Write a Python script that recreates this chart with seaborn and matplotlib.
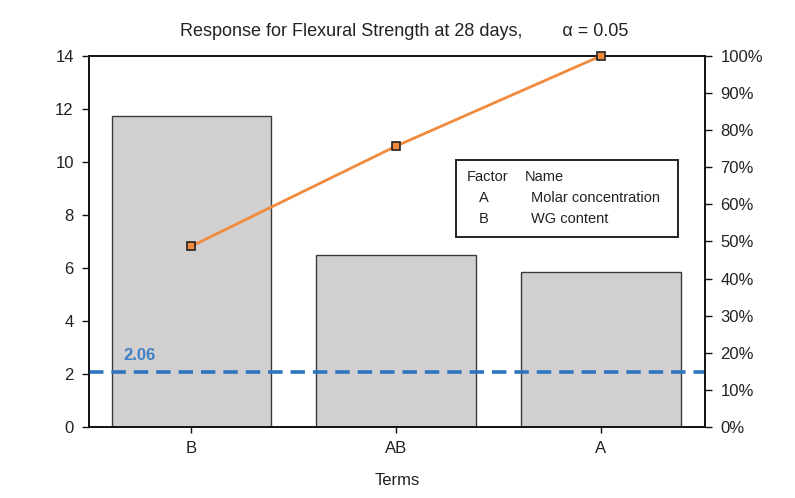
import matplotlib
matplotlib.use("Agg")
import matplotlib.pyplot as plt
import seaborn as sns
import numpy as np
import pandas as pd
from matplotlib.ticker import PercentFormatter
from matplotlib.patches import Rectangle

sns.set_theme(style="white")
plt.rcParams['font.family'] = ['Liberation Sans', 'DejaVu Sans']

terms = ["B", "AB", "A"]
effects = [11.74, 6.50, 5.85]
threshold = 2.06
left_ticks = [0, 2, 4, 6, 8, 10, 12, 14]
right_ticks = [0, 10, 20, 30, 40, 50, 60, 70, 80, 90, 100]
legend_rows = [("Factor", "Name"), ("A", "Molar concentration"), ("B", "WG content")]

df = pd.DataFrame({"term": terms, "effect": effects})
cum_pct = np.cumsum(effects) / np.sum(effects) * 100
df["cum"] = cum_pct

fig = plt.figure(figsize=(7.95, 4.98), dpi=100)
ax = fig.add_axes([0.1120, 0.1426, 0.7750, 0.745])

sns.barplot(data=df, x="term", y="effect", order=terms, color="#d2cfd1",
            edgecolor="#3a3a3a", linewidth=1.0, width=0.78, saturation=1, ax=ax)
ax.set_xlim(-0.50, 2.51)
ax.set_ylim(0, 14)
ax.set_yticks(left_ticks)
ax.set_ylabel("")
ax.set_xlabel("Terms", fontsize=12, color="#222222", labelpad=12)
ax.axhline(threshold, color="#2e75c0", linestyle=(0, (4, 2.2)), linewidth=2.6, zorder=5)
ax.text(0.0 - 0.33, threshold + 0.35, f"{threshold:.2f}", color="#3f7fc4",
        fontsize=12, fontweight="bold", ha="left", va="bottom")

for s in ax.spines.values():
    s.set_visible(True)
    s.set_color("#111111")
    s.set_linewidth(1.2)
ax.tick_params(axis="y", direction="out", length=5, width=1, color="#111111",
               labelsize=12, labelcolor="#222222", left=True, pad=6)
ax.tick_params(axis="x", direction="out", length=4, width=1, color="#111111",
               labelsize=12, labelcolor="#222222", bottom=True, pad=6)

ax2 = ax.twinx()
sns.lineplot(data=df, x="term", y="cum", ax=ax2, color="#f08a3c", linewidth=2,
             marker="s", markersize=6, markerfacecolor="#f08a3c",
             markeredgecolor="#222222", markeredgewidth=1.2, zorder=6, clip_on=False)
ax2.set_ylim(0, 100)
ax2.set_yticks(right_ticks)
ax2.yaxis.set_major_formatter(PercentFormatter(decimals=0))
ax2.set_ylabel("")
ax2.set_xlim(-0.50, 2.51)
for s in ax2.spines.values():
    s.set_visible(True)
    s.set_color("#111111")
    s.set_linewidth(1.2)
ax2.tick_params(axis="y", direction="out", length=5, width=1, color="#111111",
                labelsize=12, labelcolor="#222222", right=True, pad=6)
ax2.grid(False)
ax.grid(False)

fig.text(0.508, 0.937, "Response for Flexural Strength at 28 days,        \u03b1 = 0.05",
         ha="center", va="center", fontsize=13, color="#222222")

# factor legend box
bx0, bx1 = 456 / 795, 678 / 795
by0, by1 = 1 - 237 / 498, 1 - 160 / 498
fig.patches.append(Rectangle((bx0, by0), bx1 - bx0, by1 - by0, transform=fig.transFigure,
                             facecolor="white", edgecolor="#222222", linewidth=1.4, zorder=10))
ys = [177, 198, 219]
for (f, n), yy in zip(legend_rows, ys):
    yf = 1 - yy / 498
    if f == "Factor":
        fig.text(467 / 795, yf, f, fontsize=10.5, ha="left", va="center", color="#222222", zorder=11)
        fig.text(525 / 795, yf, n, fontsize=10.5, ha="left", va="center", color="#222222", zorder=11)
    else:
        fig.text(484 / 795, yf, f, fontsize=10.5, ha="center", va="center", color="#222222", zorder=11)
        fig.text(531 / 795, yf, n, fontsize=10.5, ha="left", va="center", color="#222222", zorder=11)

fig.savefig("out.png", dpi=100)
